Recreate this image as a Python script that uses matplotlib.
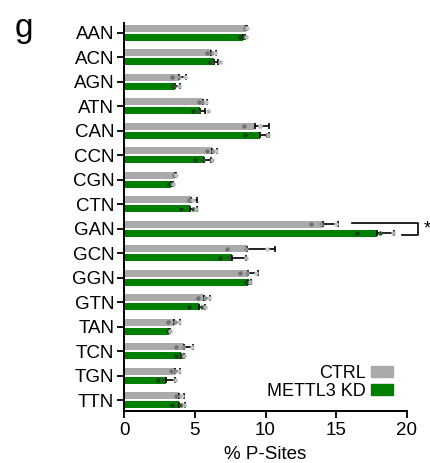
import numpy as np
import matplotlib
matplotlib.use('Agg')
import matplotlib.pyplot as plt
import matplotlib.patches as mpatches

plt.rcParams['font.family'] = ['Liberation Sans', 'DejaVu Sans']

# Data (% P-sites per codon group)
codons = ['AAN', 'ACN', 'AGN', 'ATN', 'CAN', 'CCN', 'CGN', 'CTN',
          'GAN', 'GCN', 'GGN', 'GTN', 'TAN', 'TCN', 'TGN', 'TTN']
ctrl_mean = [8.6, 6.15, 3.9, 5.55, 9.23, 6.24, 3.58, 4.71,
             14.04, 8.67, 8.74, 5.65, 3.53, 4.24, 3.6, 3.91]
ctrl_err = [0.1, 0.35, 0.47, 0.35, 1.04, 0.36, 0.1, 0.42,
            1.11, 2.0, 0.75, 0.45, 0.45, 0.64, 0.36, 0.33]
kd_mean = [8.43, 6.36, 3.6, 5.37, 9.61, 5.65, 3.32, 4.66,
           17.86, 7.61, 8.78, 5.28, 3.18, 4.0, 2.95, 3.89]
kd_err = [0.12, 0.31, 0.36, 0.35, 0.66, 0.47, 0.12, 0.52,
          1.22, 0.99, 0.17, 0.47, 0.07, 0.22, 0.63, 0.44]

# replicate values (3 per bar)
ctrl_reps = [[8.55, 8.65, 8.7], [5.9, 6.2, 6.4], [3.4, 3.9, 4.3],
             [5.3, 5.55, 5.8], [8.5, 9.6, 9.6], [5.9, 6.3, 6.5],
             [3.5, 3.6, 3.65], [4.6, 4.7, 4.85], [13.25, 13.9, 15.0],
             [7.25, 8.6, 10.1], [8.2, 8.7, 9.3], [5.25, 5.7, 6.0],
             [3.1, 3.6, 3.9], [3.7, 4.2, 4.8], [3.3, 3.6, 3.9],
             [3.7, 3.95, 4.1]]
kd_reps = [[8.2, 8.5, 8.6], [6.1, 6.2, 6.75], [3.45, 3.5, 3.9],
           [4.85, 5.25, 5.95], [8.55, 10.1, 10.2], [5.0, 5.6, 6.2],
           [3.2, 3.3, 3.45], [4.0, 4.9, 5.1], [16.5, 18.1, 19.0],
           [6.75, 7.4, 8.65], [8.6, 8.8, 8.9], [4.6, 5.5, 5.75],
           [3.1, 3.2, 3.25], [3.65, 4.1, 4.25], [2.4, 2.7, 3.6],
           [3.4, 4.0, 4.25]]

# significance bracket for GAN (x start top, x right, x end bottom)
sig_codon = 'GAN'
sig_x = [16.1, 20.8, 19.65]

gray = '#aaaaaa'
green = '#007f00'
ctrl_dot_cols = ['#707070', '#8e8e8e', '#c4c4c4']
kd_dot_cols = ['#124012', '#2a552a', '#b4b4b4']

fig = plt.figure(figsize=(4.3, 4.63), dpi=100)
ax = fig.add_axes([0.2884, 0.1123, 0.6581, 0.8387])

y = np.arange(len(codons))
h = 0.29
off = 0.19

ax.barh(y - off, ctrl_mean, height=h, color=gray, zorder=2)
ax.barh(y + off, kd_mean, height=h, color=green, zorder=2)

ax.errorbar(ctrl_mean, y - off, xerr=[np.zeros(len(y)), ctrl_err], fmt='none',
            ecolor='black', elinewidth=1.2, capsize=2.5, capthick=1.2, zorder=3)
ax.errorbar(kd_mean, y + off, xerr=[np.zeros(len(y)), kd_err], fmt='none',
            ecolor='black', elinewidth=1.2, capsize=2.5, capthick=1.2, zorder=3)

for i in range(len(codons)):
    for j in range(3):
        ax.plot(ctrl_reps[i][j], y[i] - off, 'o', ms=3.2, mec='none',
                color=ctrl_dot_cols[j], zorder=4)
        ax.plot(kd_reps[i][j], y[i] + off, 'o', ms=3.2, mec='none',
                color=kd_dot_cols[j], zorder=4)

# significance bracket
k = codons.index(sig_codon)
ax.plot([sig_x[0], sig_x[1], sig_x[1], sig_x[2]],
        [k - off - 0.05, k - off - 0.05, k + off + 0.05, k + off + 0.05],
        color='black', lw=1.2, clip_on=False, zorder=5)
ax.text(sig_x[1] + 0.35, k, '*', fontsize=13, ha='left', va='center')

ax.set_xlim(0, 20)
ax.set_ylim(15.44, -0.41)
ax.set_yticks(y)
ax.set_yticklabels(codons)
ax.set_xticks([0, 5, 10, 15, 20])
ax.tick_params(axis='both', labelsize=13.5, width=1.3, length=5, color='black')
ax.tick_params(axis='x', pad=3)
ax.tick_params(axis='y', pad=2)
for s in ['top', 'right']:
    ax.spines[s].set_visible(False)
for s in ['left', 'bottom']:
    ax.spines[s].set_linewidth(1.4)
ax.set_xlabel('% P-Sites', fontsize=13.5, labelpad=5)

handles = [mpatches.Patch(color=gray, label='CTRL'),
           mpatches.Patch(color=green, label='METTL3 KD')]
ax.legend(handles=handles, loc='lower right', bbox_to_anchor=(0.975, 0.01),
          frameon=False, fontsize=13, markerfirst=False, handlelength=1.2,
          handleheight=0.5, handletextpad=0.3, labelspacing=0.05,
          borderaxespad=0)

fig.text(0.035, 0.972, 'g', fontsize=24, ha='left', va='top')

fig.savefig('out.png', dpi=100)
